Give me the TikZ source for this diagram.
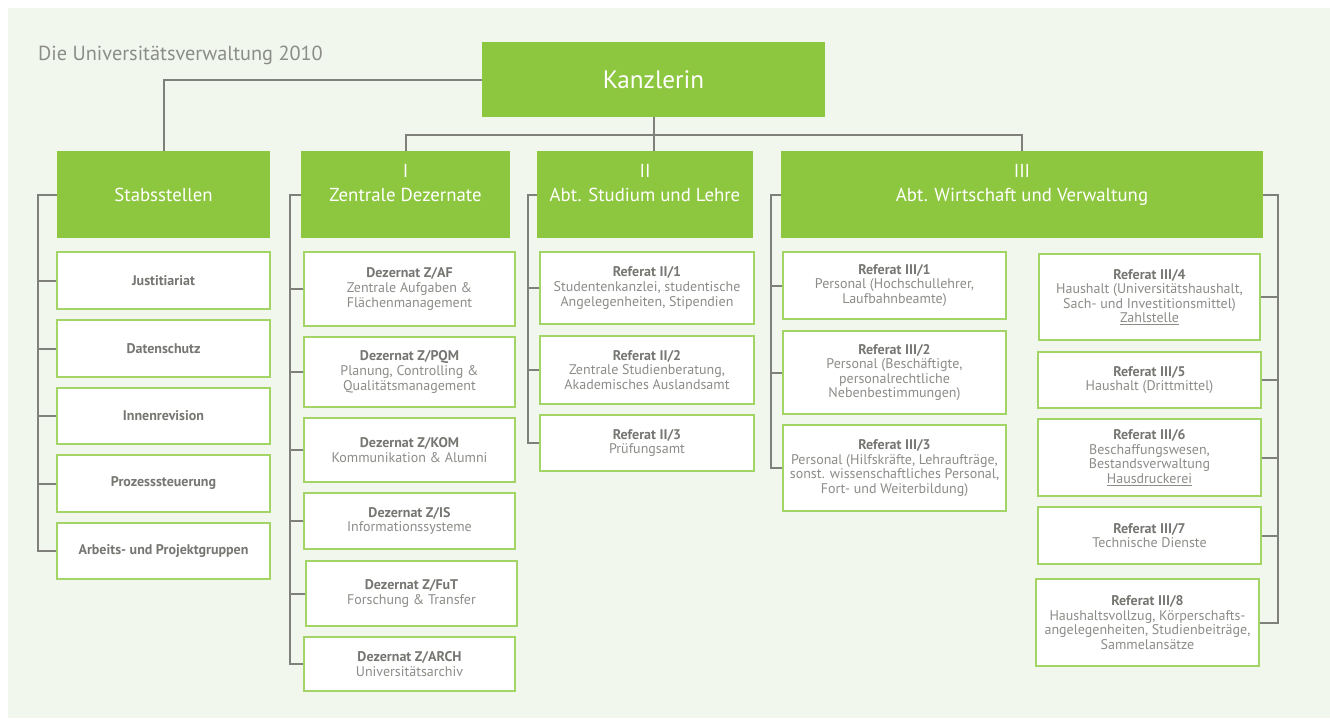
\documentclass[tikz,border=0pt]{standalone}
\usepackage{fontspec}
\setmainfont{PT Sans}
\definecolor{ugreen}{RGB}{141,198,63}
\definecolor{uborder}{RGB}{163,212,102}
\definecolor{ubg}{RGB}{241,247,236}
\definecolor{uline}{RGB}{128,128,122}
\definecolor{utext}{RGB}{140,140,136}
\definecolor{ubold}{RGB}{118,118,114}

\tikzset{
  head/.style={fill=ugreen,text=white,inner sep=0pt,align=center,
               minimum height=87pt,font=\fontsize{18.8}{23.5}\selectfont},
  unit/.style={draw=uborder,line width=1.4pt,fill=white,text=utext,inner sep=0pt,
               align=center,font=\fontsize{14}{14.6}\selectfont},
  conn/.style={draw=uline,line width=2pt},
}
\newcommand{\unitname}[1]{\textbf{\textcolor{ubold}{#1}}}

\begin{document}
\begin{tikzpicture}[x=1pt,y=-1pt]
  \useasboundingbox (0,0) rectangle (1330,718);
  \fill[ubg] (8,8) rectangle (1330,718);
  \node[anchor=base west,text=utext,inner sep=0pt,font=\fontsize{20.3}{24}\selectfont]
        (title) at (38,60.5) {Die Universitätsverwaltung 2010};

  %% Kanzlerin and the four heads
  \node[head,minimum width=343pt,minimum height=75pt,font=\fontsize{25.2}{30}\selectfont]
        (kanz) at (653.5,79.5) {Kanzlerin};
  \node[head,minimum width=213pt] (stab) at (163.5,194.5) {Stabsstellen};
  \node[head,minimum width=209pt] (zd) at (405.5,194.5) {I\\Zentrale Dezernate\\\mbox{}};
  \node[head,minimum width=216pt] (sl) at (645,194.5) {II\\Abt. Studium und Lehre\\\mbox{}};
  \node[head,minimum width=482pt] (wv) at (1022,194.5) {III\\Abt. Wirtschaft und Verwaltung\\\mbox{}};

  %% Stabsstellen
  \node[unit,minimum width=213pt,minimum height=57pt] (s1) at (163.5,280.5) {\unitname{Justitiariat}};
  \node[unit,minimum width=213pt,minimum height=57pt] (s2) at (163.5,348.5) {\unitname{Datenschutz}};
  \node[unit,minimum width=213pt,minimum height=56pt] (s3) at (163.5,416) {\unitname{Innenrevision}};
  \node[unit,minimum width=213pt,minimum height=57pt] (s4) at (163.5,483.5) {\unitname{Prozesssteuerung}};
  \node[unit,minimum width=213pt,minimum height=56pt] (s5) at (163.5,551) {\unitname{Arbeits- und Projektgruppen}};

  %% I Zentrale Dezernate
  \node[unit,minimum width=211pt,minimum height=74pt] (z1) at (409.5,289)
        {\unitname{Dezernat Z/AF}\\Zentrale Aufgaben \&\\Flächenmanagement};
  \node[unit,minimum width=211pt,minimum height=70pt] (z2) at (409.5,372)
        {\unitname{Dezernat Z/PQM}\\Planung, Controlling \&\\Qualitätsmanagement};
  \node[unit,minimum width=211pt,minimum height=64pt] (z3) at (409.5,450)
        {\unitname{Dezernat Z/KOM}\\Kommunikation \& Alumni};
  \node[unit,minimum width=211pt,minimum height=56pt] (z4) at (409.5,521)
        {\unitname{Dezernat Z/IS}\\Informationssysteme};
  \node[unit,minimum width=211pt,minimum height=65pt] (z5) at (411.5,593.5)
        {\unitname{Dezernat Z/FuT}\\Forschung \& Transfer};
  \node[unit,minimum width=211pt,minimum height=54pt] (z6) at (409.5,664)
        {\unitname{Dezernat Z/ARCH}\\Universitätsarchiv};

  %% II Studium und Lehre
  \node[unit,minimum width=214pt,minimum height=72pt] (r1) at (647,288)
        {\unitname{Referat II/1}\\Studentenkanzlei, studentische\\Angelegenheiten, Stipendien};
  \node[unit,minimum width=214pt,minimum height=68pt] (r2) at (647,370)
        {\unitname{Referat II/2}\\Zentrale Studienberatung,\\Akademisches Auslandsamt};
  \node[unit,minimum width=214pt,minimum height=56pt] (r3) at (647,443)
        {\unitname{Referat II/3}\\Prüfungsamt};

  %% III Wirtschaft und Verwaltung
  \node[unit,minimum width=223pt,minimum height=67pt] (p1) at (894.5,285.5)
        {\unitname{Referat III/1}\\Personal (Hochschullehrer,\\Laufbahnbeamte)};
  \node[unit,minimum width=223pt,minimum height=83pt] (p2) at (894.5,372.5)
        {\unitname{Referat III/2}\\Personal (Beschäftigte,\\personalrechtliche\\Nebenbestimmungen)};
  \node[unit,minimum width=223pt,minimum height=86pt] (p3) at (894.5,468)
        {\unitname{Referat III/3}\\Personal (Hilfskräfte, Lehraufträge,\\sonst. wissenschaftliches Personal,\\Fort- und Weiterbildung)};
  \node[unit,minimum width=221pt,minimum height=86pt] (h4) at (1149.5,297)
        {\unitname{Referat III/4}\\Haushalt (Universitätshaushalt,\\Sach- und Investitionsmittel)\\\underline{Zahlstelle}};
  \node[unit,minimum width=223pt,minimum height=56pt] (h5) at (1149.5,380)
        {\unitname{Referat III/5}\\Haushalt (Drittmittel)};
  \node[unit,minimum width=223pt,minimum height=77pt] (h6) at (1149.5,457.5)
        {\unitname{Referat III/6}\\Beschaffungswesen,\\Bestandsverwaltung\\\underline{Hausdruckerei}};
  \node[unit,minimum width=223pt,minimum height=57pt] (h7) at (1149.5,535.5)
        {\unitname{Referat III/7}\\Technische Dienste};
  \node[unit,minimum width=223pt,minimum height=87pt] (h8) at (1147.5,622.5)
        {\unitname{Referat III/8}\\Haushaltsvollzug, Körperschafts-\\angelegenheiten, Studienbeiträge,\\Sammelansätze};

  %% connectors from the Kanzlerin
  \coordinate (bus) at (653.5,135);
  \draw[conn] (kanz.west) -| (stab.north);
  \draw[conn] (kanz.south) -- (kanz.south |- sl.north);
  \draw[conn] (zd.north) |- (bus) -| (wv.north);

  %% brackets down the columns
  \coordinate (stabx) at (38,0);
  \coordinate (zdx) at (290,0);
  \coordinate (slx) at (528,0);
  \coordinate (wvx) at (771,0);
  \coordinate (wvr) at (1278,0);
  \draw[conn] (stab.west) -- (stab.west -| stabx) |- (s5.west);
  \foreach \n in {s1,s2,s3,s4} \draw[conn] (\n.west) -- (\n.west -| stabx);
  \draw[conn] (zd.west) -- (zd.west -| zdx) |- (z6.west);
  \foreach \n in {z1,z2,z3,z4,z5} \draw[conn] (\n.west) -- (\n.west -| zdx);
  \draw[conn] (sl.west) -- (sl.west -| slx) |- (r3.west);
  \foreach \n in {r1,r2} \draw[conn] (\n.west) -- (\n.west -| slx);
  \draw[conn] (wv.west) -- (wv.west -| wvx) |- (p3.west);
  \foreach \n in {p1,p2} \draw[conn] (\n.west) -- (\n.west -| wvx);
  \draw[conn] (wv.east) -- (wv.east -| wvr) |- (h8.east);
  \foreach \n in {h4,h5,h6,h7} \draw[conn] (\n.east) -- (\n.east -| wvr);
\end{tikzpicture}
\end{document}
